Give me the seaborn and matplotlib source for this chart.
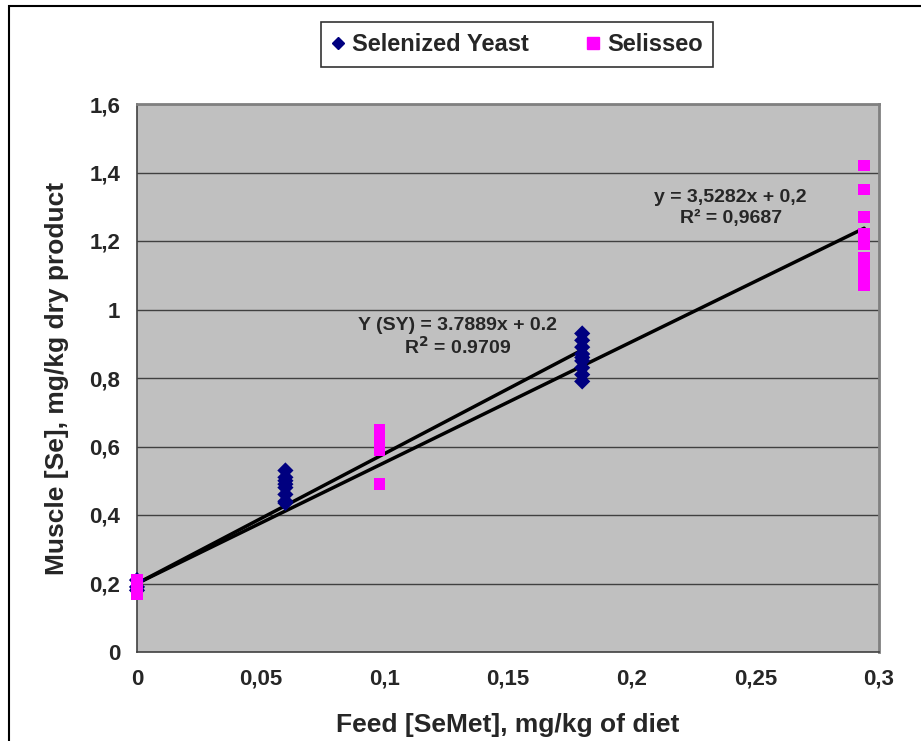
import matplotlib
matplotlib.use('Agg')
import matplotlib.pyplot as plt
import matplotlib.patches as mpatches
import pandas as pd
import seaborn as sns

sns.set_style('white')
plt.rcParams['font.family'] = ['Liberation Sans', 'DejaVu Sans']
plt.rcParams['font.weight'] = 'bold'

# Datos
sy_x = [0.0, 0.0, 0.0,
        0.06, 0.06, 0.06, 0.06, 0.06, 0.06, 0.06, 0.06,
        0.18, 0.18, 0.18, 0.18, 0.18, 0.18, 0.18, 0.18, 0.18]
sy_y = [0.21, 0.19, 0.18,
        0.53, 0.51, 0.50, 0.49, 0.48, 0.46, 0.44, 0.435,
        0.93, 0.91, 0.89, 0.87, 0.86, 0.85, 0.83, 0.81, 0.79]

sel_x = [0.0, 0.0, 0.0, 0.0,
         0.098, 0.098, 0.098, 0.098, 0.098,
         0.294, 0.294, 0.294, 0.294, 0.294, 0.294, 0.294, 0.294, 0.294]
sel_y = [0.21, 0.19, 0.18, 0.17,
         0.65, 0.63, 0.61, 0.59, 0.49,
         1.42, 1.35, 1.27, 1.22, 1.19, 1.15, 1.12, 1.095, 1.07]

series = ['Selenized Yeast', 'Selisseo']
# ajustes lineales (pendiente, ordenada)
fit_sel = (3.5282, 0.2)
fit_sy = (3.7889, 0.2)

xticks = [0, 0.05, 0.1, 0.15, 0.2, 0.25, 0.3]
xticklabels = ['0', '0,05', '0,1', '0,15', '0,2', '0,25', '0,3']
yticks = [0, 0.2, 0.4, 0.6, 0.8, 1.0, 1.2, 1.4, 1.6]
yticklabels = ['0', '0,2', '0,4', '0,6', '0,8', '1', '1,2', '1,4', '1,6']

df = pd.DataFrame({
    'x': sy_x + sel_x,
    'y': sy_y + sel_y,
    'serie': [series[0]] * len(sy_x) + [series[1]] * len(sel_x),
})

fig = plt.figure(figsize=(9.21, 7.41), dpi=100)
ax = fig.add_axes([137 / 921, 1 - 652 / 741, 742 / 921, 548 / 741])
ax.set_facecolor('#C0C0C0')

# borde del area del grafico
fig.patches.append(mpatches.Rectangle((9 / 921, -0.05), 1.0, 1 - 6 / 741 + 0.05,
                                      transform=fig.transFigure, fill=False,
                                      edgecolor='black', linewidth=1.5))

for yt in yticks[1:]:
    ax.axhline(yt, color='#404040', linewidth=1.0, zorder=1)

# rectas de tendencia
x_sel_max = max(sel_x)
x_sy_max = max(sy_x)
ax.plot([0, x_sel_max], [fit_sel[1], fit_sel[0] * x_sel_max + fit_sel[1]],
        color='black', linewidth=2.5, zorder=2)
ax.plot([0, x_sy_max], [fit_sy[1], fit_sy[0] * x_sy_max + fit_sy[1]],
        color='black', linewidth=2.5, zorder=2)

sns.scatterplot(data=df, x='x', y='y', hue='serie', style='serie',
                markers={series[0]: 'D', series[1]: 's'},
                palette={series[0]: '#000080', series[1]: '#FF00FF'},
                s=68, linewidth=0, ax=ax, zorder=3, legend=False, clip_on=False)

ax.set_xlim(0, 0.3)
ax.set_ylim(0, 1.6)
ax.set_xticks(xticks)
ax.set_xticklabels(xticklabels, fontsize=16, fontweight='bold')
ax.set_yticks(yticks)
ax.set_yticklabels(yticklabels, fontsize=16, fontweight='bold')
ax.tick_params(axis='both', direction='out', length=6, width=1, color='#404040')
ax.tick_params(axis='x', pad=6)
ax.tick_params(axis='y', pad=6)

for side in ['left', 'bottom']:
    ax.spines[side].set_color('#404040')
    ax.spines[side].set_linewidth(1.2)
for side in ['right', 'top']:
    ax.spines[side].set_color('#808080')
    ax.spines[side].set_linewidth(2)

ax.set_xlabel('Feed [SeMet], mg/kg of diet', fontsize=19, fontweight='bold', labelpad=17)
ax.set_ylabel('Muscle [Se], mg/kg dry product', fontsize=19, fontweight='bold', labelpad=15)

ax.text(0.80, 0.830, 'y = 3,5282x + 0,2', transform=ax.transAxes, ha='center', va='center',
        fontsize=14, fontweight='bold')
ax.text(0.80, 0.792, 'R² = 0,9687', transform=ax.transAxes, ha='center', va='center',
        fontsize=14, fontweight='bold')
ax.text(0.432, 0.595, 'Y (SY) = 3.7889x + 0.2', transform=ax.transAxes, ha='center', va='center',
        fontsize=14, fontweight='bold')
ax.text(0.432, 0.557, 'R$^2$ = 0.9709', transform=ax.transAxes, ha='center', va='center',
        fontsize=14, fontweight='bold')

handles = [
    plt.Line2D([], [], marker='D', linestyle='none', color='#000080', markersize=6),
    plt.Line2D([], [], marker='s', linestyle='none', color='#FF00FF', markersize=8),
]
leg = fig.legend(handles, series, loc='center', ncol=2,
                 bbox_to_anchor=(517 / 921, 1 - 44.5 / 741),
                 frameon=True, fancybox=False, edgecolor='black',
                 prop={'size': 17, 'weight': 'bold'},
                 handlelength=0.6, handletextpad=0.3, columnspacing=2.4,
                 borderpad=0.45, borderaxespad=0)
leg.get_frame().set_linewidth(1.2)

fig.savefig('out.png', dpi=100)
